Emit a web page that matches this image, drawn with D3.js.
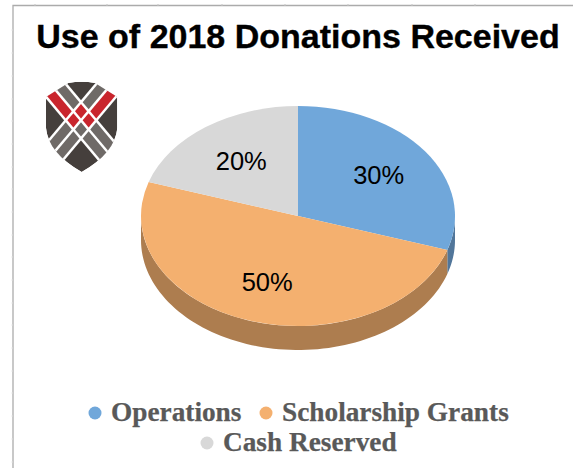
<!DOCTYPE html>
<html><head><meta charset="utf-8">
<script src="https://cdn.jsdelivr.net/npm/d3@7"></script>
<style>html,body{margin:0;padding:0;background:#fff;overflow:hidden}svg{display:block}</style>
</head><body><svg id="c" width="573" height="468"></svg>
<script>
const categories=["Operations","Scholarship Grants","Cash Reserved"];
const values=[30,50,20];
const labels=["30%","50%","20%"];
const colors=["#70a7da","#f4b06f","#d8d8d8"];
const sideColors=["#51769a","#ad7d4f","#999999"];
const topTicks=[35,107,158,222,285,348,412,475];
const leftTicks=[30,53,76,99,121,144,167,189,212,235,257,280,303,325,348,371,393,416,439,462];
const svg=d3.select("#c");
const cx=298,cy=216,rx=157,ry=110,depth=24;
// frame
svg.append("path").attr("d","M13,468V5.5H573").attr("fill","none").attr("stroke","#ababab").attr("stroke-width",1.3);
svg.selectAll(".tt").data(topTicks).join("line").attr("x1",d=>d).attr("x2",d=>d).attr("y1",4).attr("y2",6).attr("stroke","#c4c4c4");
svg.selectAll(".lt").data(leftTicks).join("line").attr("x1",11.5).attr("x2",13).attr("y1",d=>d).attr("y2",d=>d).attr("stroke","#dcdcdc");
svg.append("text").attr("x",298).attr("y",48).attr("text-anchor","middle")
 .attr("font-family","Liberation Sans").attr("font-weight",700).attr("font-size",34).attr("fill","#000")
 .attr("stroke","#000").attr("stroke-width",0.35)
 .text("Use of 2018 Donations Received");
// pie
const pie=d3.pie().value(d=>d).sort(null)(values);
const X=d3.scaleLinear().domain([-1,1]).range([cx-rx,cx+rx]);
const Y=d3.scaleLinear().domain([-1,1]).range([cy-ry,cy+ry]);
const area=d3.area().x(a=>X(Math.sin(a))).y0(a=>Y(-Math.cos(a))).y1(a=>Y(-Math.cos(a))+depth);
pie.forEach((p,i)=>{
  const a0=Math.max(p.startAngle,Math.PI/2),a1=Math.min(p.endAngle,Math.PI*1.5);
  if(a1<=a0)return;
  const n=80,angles=d3.range(n+1).map(k=>a0+(a1-a0)*k/n);
  svg.append("path").attr("d",area(angles)).attr("fill",sideColors[i]);
});
const arc=d3.arc().innerRadius(0).outerRadius(rx);
const g=svg.append("g").attr("transform",`translate(${cx},${cy}) scale(1,${ry/rx})`);
g.selectAll("path").data(pie).join("path").attr("d",arc).attr("fill",(d,i)=>colors[i]);
const labelR=[0.635,0.635,0.615];
svg.selectAll(".lab").data(pie).join("text").attr("class","lab")
 .attr("x",(d,i)=>X(labelR[i]*Math.sin((d.startAngle+d.endAngle)/2)))
 .attr("y",(d,i)=>Y(-labelR[i]*Math.cos((d.startAngle+d.endAngle)/2)))
 .attr("dy","0.35em").attr("text-anchor","middle").attr("font-family","Liberation Sans").attr("font-size",25.5).attr("fill","#000")
 .text((d,i)=>labels[i]);
// legend
const rowY=[413,443], markerX=[95,266,207];
categories.forEach((c,i)=>{
  const y=rowY[i==2?1:0];
  svg.append("circle").attr("cx",markerX[i]).attr("cy",y).attr("r",6.5).attr("fill",colors[i]);
  svg.append("text").attr("x",markerX[i]+16).attr("y",y+8).attr("font-family","Liberation Serif").attr("font-weight",700)
   .attr("font-size",27.3).attr("fill","#595959").attr("stroke","#595959").attr("stroke-width",0.25).text(c);
});
// logo
const logo=svg.append("g").attr("transform","translate(40,78) scale(0.3333)");
const shield="M18,57 L85,15 Q125,8 165,15 L232,57 L232,150 Q225,225 125,282 Q25,225 18,150 Z";
svg.append("defs").append("clipPath").attr("id","sh").append("path").attr("d",shield);
const inner=logo.append("g").attr("clip-path","url(#sh)");
inner.append("path").attr("d",shield).attr("fill","#453f3c");
const ang=50*Math.PI/180,ex=Math.cos(ang),ey=Math.sin(ang),c0=[123,127];
const T=17.8,w=28,gp=7.6,far=260;
const pt=(s,t)=>[c0[0]+(s-t)*ex,c0[1]+(s+t)*ey];
function cell(s0,s1,t0,t1,col){
  inner.append("path").attr("d",d3.line()([pt(s0,t0),pt(s1,t0),pt(s1,t1),pt(s0,t1)])+"Z").attr("fill",col);
}
const gray="#6f6a67",red="#c9252d",white="#fff";
const O=T+w/2+gp;
cell(-far,far,-O,O,white);
cell(-O,O,-far,far,white);
// diamonds
[[-T,-T,red],[-T,T,red],[T,-T,red],[T,T,gray]].forEach(([s,t,col])=>cell(s-w/2,s+w/2,t-w/2,t+w/2,col));
// arms along first diagonal
cell(-far,-O,T-w/2,T+w/2,red);
cell(-far,-O,-T-w/2,-T+w/2,gray);
cell(O,far,T-w/2,T+w/2,gray);
cell(O,far,-T-w/2,-T+w/2,gray);
// arms along second diagonal
cell(T-w/2,T+w/2,-far,-O,red);
cell(-T-w/2,-T+w/2,-far,-O,gray);
cell(T-w/2,T+w/2,O,far,gray);
cell(-T-w/2,-T+w/2,O,far,gray);
</script></body></html>
